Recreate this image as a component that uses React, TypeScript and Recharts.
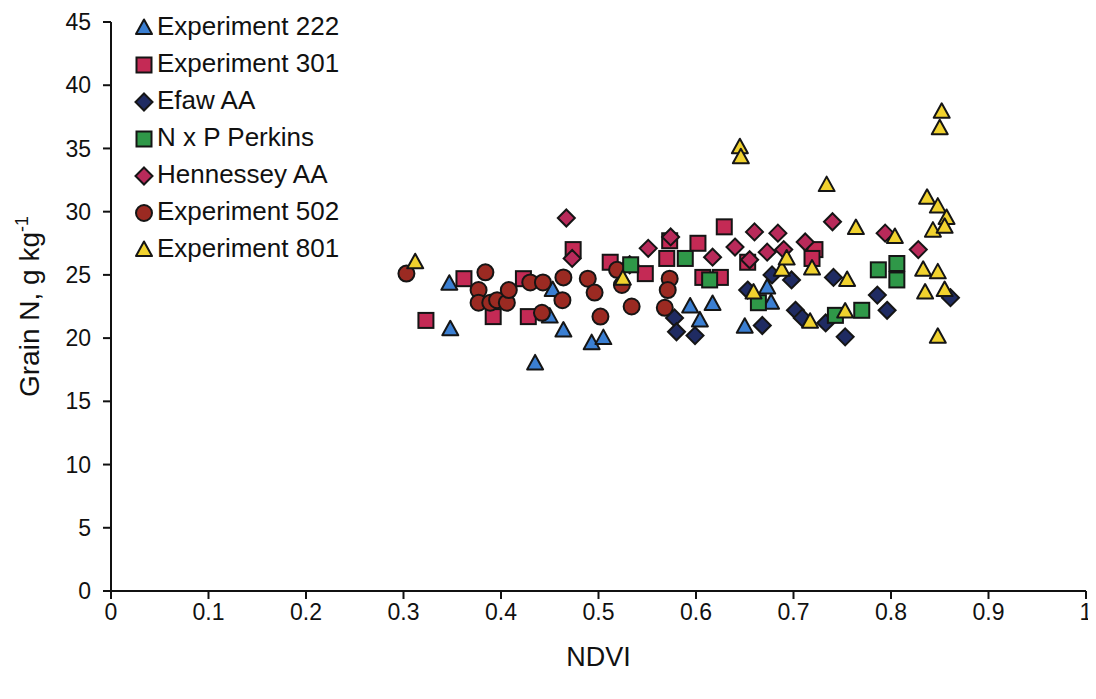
import React from "react";
import { ScatterChart, Scatter, XAxis, YAxis } from "recharts";

// NDVI vs grain N, one array per experiment
const exp222 = [
  { x: 0.347, y: 24.3 }, { x: 0.348, y: 20.7 }, { x: 0.435, y: 18.0 },
  { x: 0.45, y: 21.7 }, { x: 0.453, y: 23.8 }, { x: 0.464, y: 20.6 },
  { x: 0.493, y: 19.6 }, { x: 0.505, y: 20.0 }, { x: 0.594, y: 22.5 },
  { x: 0.617, y: 22.7 }, { x: 0.604, y: 21.4 }, { x: 0.65, y: 20.9 },
  { x: 0.673, y: 24.0 }, { x: 0.677, y: 22.8 },
];

const exp301 = [
  { x: 0.323, y: 21.4 }, { x: 0.362, y: 24.7 }, { x: 0.392, y: 21.7 },
  { x: 0.423, y: 24.7 }, { x: 0.428, y: 21.7 }, { x: 0.474, y: 27.0 },
  { x: 0.512, y: 26.0 }, { x: 0.548, y: 25.1 }, { x: 0.57, y: 26.3 },
  { x: 0.573, y: 27.7 }, { x: 0.602, y: 27.5 }, { x: 0.607, y: 24.8 },
  { x: 0.625, y: 24.8 }, { x: 0.629, y: 28.8 }, { x: 0.653, y: 26.0 },
  { x: 0.722, y: 27.0 }, { x: 0.719, y: 26.3 },
];

const efawAA = [
  { x: 0.578, y: 21.6 }, { x: 0.58, y: 20.5 }, { x: 0.599, y: 20.2 },
  { x: 0.668, y: 21.0 }, { x: 0.653, y: 23.8 }, { x: 0.678, y: 25.0 },
  { x: 0.698, y: 24.6 }, { x: 0.702, y: 22.2 }, { x: 0.709, y: 21.6 },
  { x: 0.733, y: 21.2 }, { x: 0.741, y: 24.8 }, { x: 0.786, y: 23.4 },
  { x: 0.796, y: 22.2 }, { x: 0.753, y: 20.1 }, { x: 0.861, y: 23.2 },
];

const nxpPerkins = [
  { x: 0.533, y: 25.8 }, { x: 0.589, y: 26.3 }, { x: 0.614, y: 24.6 },
  { x: 0.664, y: 22.8 }, { x: 0.743, y: 21.8 }, { x: 0.77, y: 22.2 },
  { x: 0.787, y: 25.4 }, { x: 0.806, y: 25.9 }, { x: 0.806, y: 24.6 },
];

const hennesseyAA = [
  { x: 0.467, y: 29.5 }, { x: 0.473, y: 26.3 }, { x: 0.532, y: 25.8 },
  { x: 0.551, y: 27.1 }, { x: 0.574, y: 28.0 }, { x: 0.617, y: 26.4 },
  { x: 0.64, y: 27.2 }, { x: 0.66, y: 28.4 }, { x: 0.684, y: 28.3 },
  { x: 0.673, y: 26.8 }, { x: 0.655, y: 26.2 }, { x: 0.69, y: 27.0 },
  { x: 0.712, y: 27.6 }, { x: 0.74, y: 29.2 }, { x: 0.794, y: 28.3 },
  { x: 0.828, y: 27.0 },
];

const exp502 = [
  { x: 0.303, y: 25.1 }, { x: 0.384, y: 25.2 }, { x: 0.377, y: 23.8 },
  { x: 0.377, y: 22.8 }, { x: 0.389, y: 22.8 }, { x: 0.396, y: 23.0 },
  { x: 0.406, y: 22.8 }, { x: 0.408, y: 23.8 }, { x: 0.43, y: 24.4 },
  { x: 0.443, y: 24.4 }, { x: 0.464, y: 24.8 }, { x: 0.489, y: 24.7 },
  { x: 0.496, y: 23.6 }, { x: 0.463, y: 23.0 }, { x: 0.442, y: 22.0 },
  { x: 0.502, y: 21.7 }, { x: 0.519, y: 25.4 }, { x: 0.524, y: 24.2 },
  { x: 0.534, y: 22.5 }, { x: 0.573, y: 24.7 }, { x: 0.571, y: 23.8 },
  { x: 0.568, y: 22.4 },
];

const exp801 = [
  { x: 0.312, y: 26.0 }, { x: 0.525, y: 24.7 }, { x: 0.645, y: 35.1 },
  { x: 0.646, y: 34.3 }, { x: 0.659, y: 23.6 }, { x: 0.688, y: 25.4 },
  { x: 0.693, y: 26.3 }, { x: 0.719, y: 25.5 }, { x: 0.717, y: 21.3 },
  { x: 0.734, y: 32.1 }, { x: 0.764, y: 28.7 }, { x: 0.755, y: 24.6 },
  { x: 0.753, y: 22.1 }, { x: 0.804, y: 28.0 }, { x: 0.837, y: 31.1 },
  { x: 0.848, y: 30.4 }, { x: 0.857, y: 29.5 }, { x: 0.843, y: 28.5 },
  { x: 0.855, y: 28.8 }, { x: 0.833, y: 25.4 }, { x: 0.848, y: 25.2 },
  { x: 0.855, y: 23.8 }, { x: 0.835, y: 23.6 }, { x: 0.848, y: 20.1 },
  { x: 0.852, y: 37.9 }, { x: 0.85, y: 36.6 },
];

const xTicks = [0, 0.1, 0.2, 0.3, 0.4, 0.5, 0.6, 0.7, 0.8, 0.9, 1];
const yTicks = [0, 5, 10, 15, 20, 25, 30, 35, 40, 45];

const FONT = "'Liberation Sans', Arial, sans-serif";
const STROKE = "#151515";

type Kind = "triangle" | "square" | "diamond" | "circle";

function Marker({ kind, cx, cy, fill }: { kind: Kind; cx: number; cy: number; fill: string }) {
  if (kind === "triangle") {
    const pts = `${cx},${cy - 8.5} ${cx + 8},${cy + 6} ${cx - 8},${cy + 6}`;
    return <polygon points={pts} fill={fill} stroke={STROKE} strokeWidth={2} strokeLinejoin="round" />;
  }
  if (kind === "square") {
    return <rect x={cx - 7.5} y={cy - 7.5} width={15} height={15} fill={fill} stroke={STROKE} strokeWidth={2} />;
  }
  if (kind === "diamond") {
    const pts = `${cx},${cy - 8.5} ${cx + 8.5},${cy} ${cx},${cy + 8.5} ${cx - 8.5},${cy}`;
    return <polygon points={pts} fill={fill} stroke={STROKE} strokeWidth={2} />;
  }
  return <circle cx={cx} cy={cy} r={8} fill={fill} stroke={STROKE} strokeWidth={2} />;
}

const seriesList: { name: string; data: { x: number; y: number }[]; kind: Kind; fill: string }[] = [
  { name: "Experiment 222", data: exp222, kind: "triangle", fill: "#3b7fd2" },
  { name: "Experiment 301", data: exp301, kind: "square", fill: "#c42a55" },
  { name: "Efaw AA", data: efawAA, kind: "diamond", fill: "#1f2b62" },
  { name: "N x P Perkins", data: nxpPerkins, kind: "square", fill: "#2f9848" },
  { name: "Hennessey AA", data: hennesseyAA, kind: "diamond", fill: "#b82a5a" },
  { name: "Experiment 502", data: exp502, kind: "circle", fill: "#9b2a22" },
  { name: "Experiment 801", data: exp801, kind: "triangle", fill: "#f1d22e" },
];

// drawing order so overlaps look like the original
const drawOrder = [
  "Experiment 301",
  "Experiment 222",
  "Hennessey AA",
  "Experiment 502",
  "Efaw AA",
  "N x P Perkins",
  "Experiment 801",
];

const YLabel = (props: any) => {
  const { viewBox } = props;
  const cx = 31;
  const cy = viewBox.y + viewBox.height / 2;
  return (
    <text
      x={cx}
      y={cy}
      transform={`rotate(-90, ${cx}, ${cy})`}
      textAnchor="middle"
      fontFamily={FONT}
      fontSize={28}
      fill="#111"
    >
      Grain N, g kg
      <tspan fontSize={18} dy={-11}>-1</tspan>
    </text>
  );
};

const fmtX = (v: number) => String(v);

export default function App() {
  return (
    <div style={{ position: "relative", width: 1088, height: 683 }}>
      <ScatterChart
        width={1088}
        height={683}
        margin={{ top: 14, right: 10, bottom: 0, left: 0 }}
      >
        <XAxis
          type="number"
          dataKey="x"
          domain={[0, 1]}
          ticks={xTicks}
          tickFormatter={fmtX}
          height={100}
          axisLine={{ stroke: "#111", strokeWidth: 2 }}
          tickLine={{ stroke: "#111", strokeWidth: 2 }}
          tickSize={8}
          tickMargin={5}
          tick={{ fill: "#111", fontSize: 23, fontFamily: FONT }}
          label={{
            value: "NDVI",
            position: "insideBottom",
            offset: 25,
            fill: "#111",
            fontSize: 27,
            fontFamily: FONT,
          }}
        />
        <YAxis
          type="number"
          dataKey="y"
          domain={[0, 45]}
          ticks={yTicks}
          width={103}
          axisLine={{ stroke: "#111", strokeWidth: 2 }}
          tickLine={{ stroke: "#111", strokeWidth: 2 }}
          tickSize={8}
          tickMargin={12}
          tick={{ fill: "#111", fontSize: 23, fontFamily: FONT }}
          label={<YLabel />}
        />
        {drawOrder.map((n) => {
          const s = seriesList.find((q) => q.name === n)!;
          return (
            <Scatter
              key={s.name}
              name={s.name}
              data={s.data}
              fill={s.fill}
              isAnimationActive={false}
              shape={(p: any) => <Marker kind={s.kind} cx={p.cx} cy={p.cy} fill={s.fill} />}
            />
          );
        })}
      </ScatterChart>
      <div
        style={{
          position: "absolute",
          left: 125,
          top: 0,
          fontFamily: FONT,
          fontSize: 26,
          color: "#111",
        }}
      >
        {seriesList.map((s) => (
          <div key={s.name} style={{ display: "flex", alignItems: "center", height: 37 }}>
            <svg width={22} height={22} style={{ marginRight: 2 }}>
              <Marker kind={s.kind} cx={11} cy={12} fill={s.fill} />
            </svg>
            <span>{s.name}</span>
          </div>
        ))}
      </div>
    </div>
  );
}
